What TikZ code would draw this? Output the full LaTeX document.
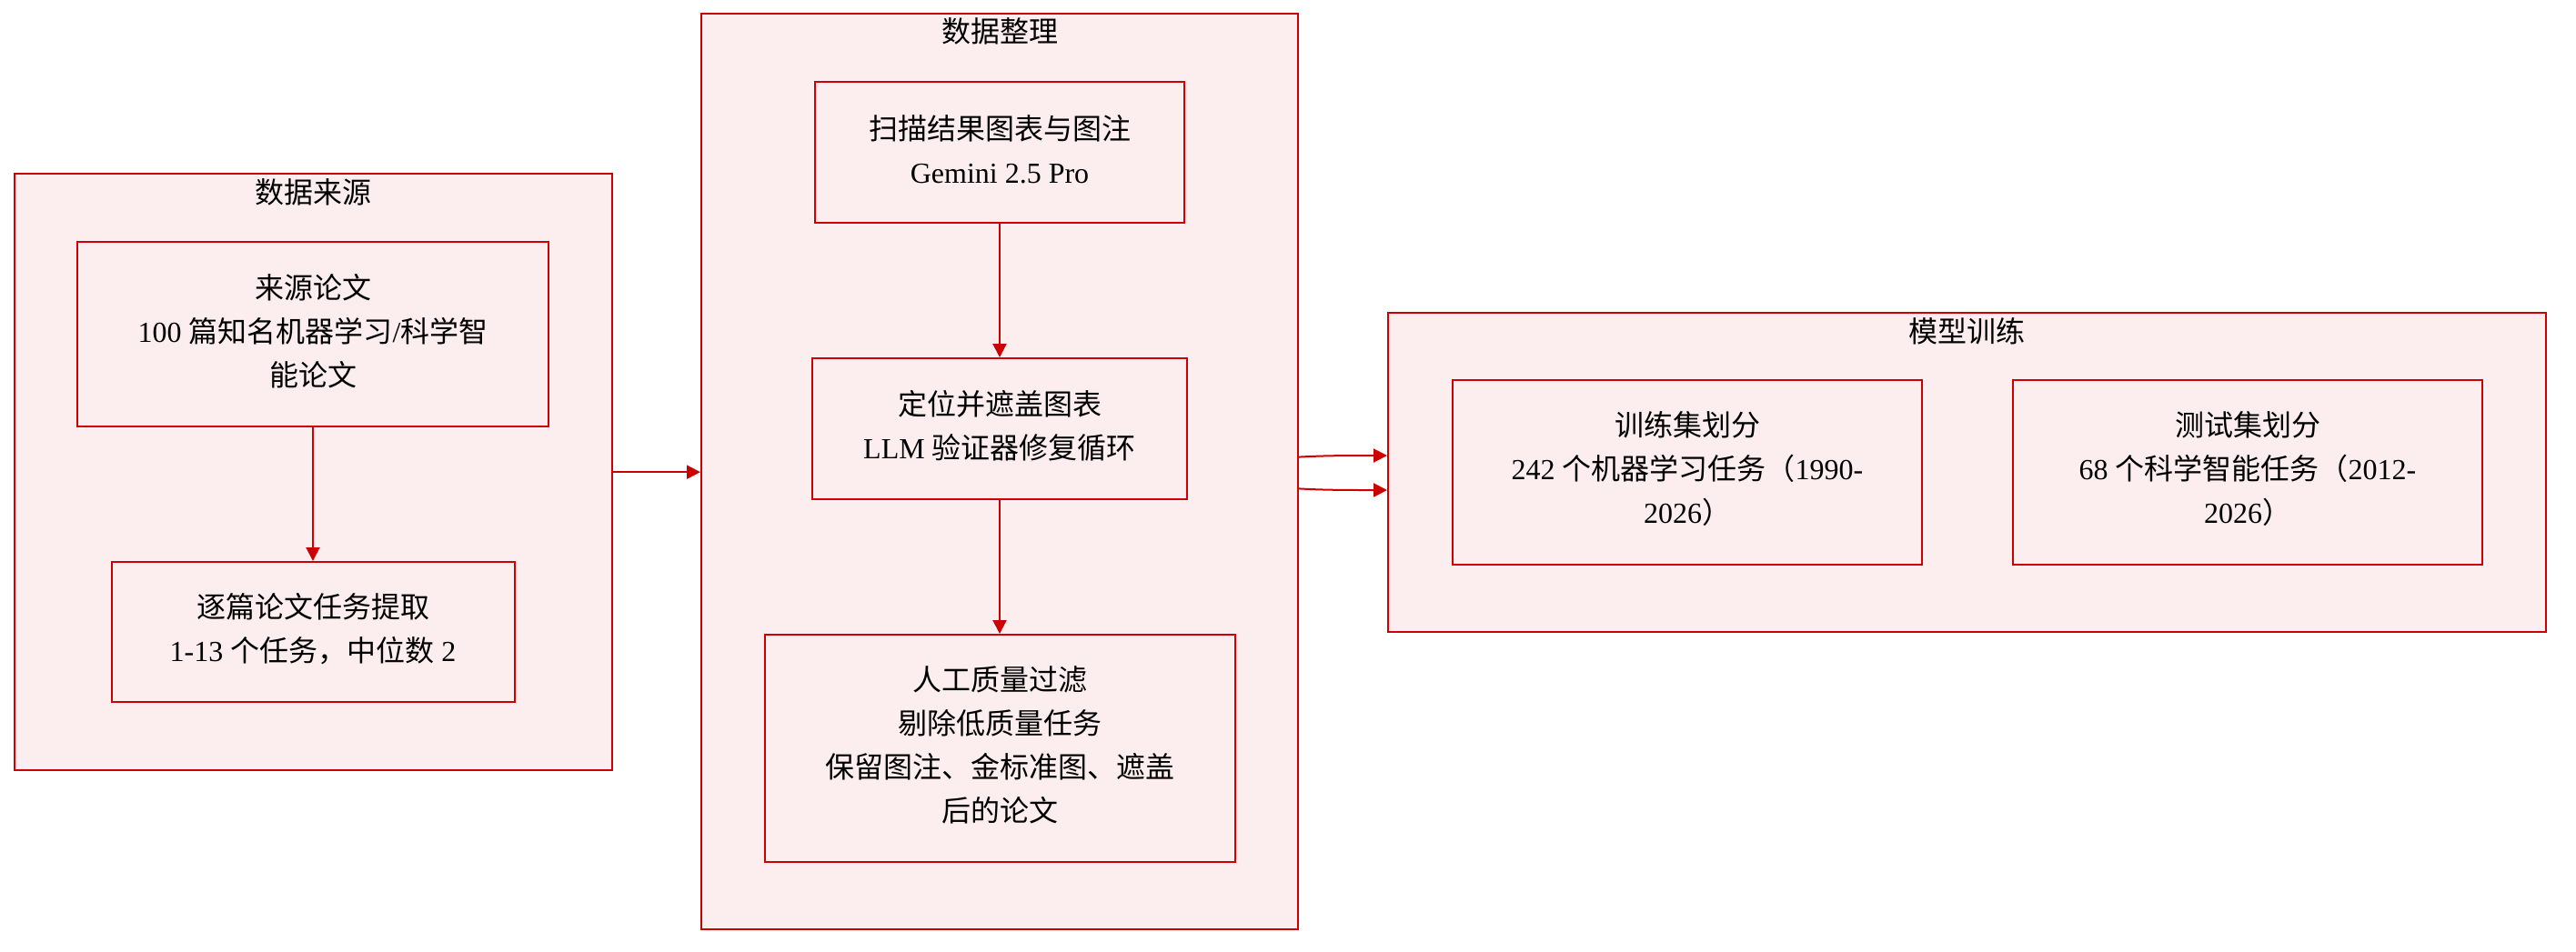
\documentclass[tikz,border=0pt]{standalone}
\usepackage{fontspec}
\setmainfont{Liberation Serif}
\newfontfamily\zhfont{Noto Sans CJK SC}
\newcommand\zh[1]{{\zhfont #1}}
\usetikzlibrary{arrows.meta}
\definecolor{redline}{HTML}{CC0000}
\definecolor{pinkfill}{HTML}{FCEEEE}
\tikzset{
  group/.style={draw=redline, fill=pinkfill, line width=1pt, rectangle, inner sep=0pt},
  steptext/.style={align=center, inner sep=0pt, yshift=1.8pt,
    font=\fontsize{16pt}{24pt}\selectfont},
  stepbox/.style={draw=redline, fill=pinkfill, line width=1pt, rectangle, inner sep=0pt,
    label={[steptext]center:#1}},
  gtitle/.style={font=\fontsize{16pt}{24pt}\selectfont, inner sep=0pt},
  conn/.style={draw=redline, line width=1pt, -{Triangle[length=7.5pt,width=7.5pt]}},
}
\begin{document}
\begin{tikzpicture}
\useasboundingbox (0pt,0pt) rectangle (1416pt,-523pt);
% groups
\node[group, minimum width=328.7pt, minimum height=327.75pt] (g1) at (172.15pt,-259.6pt) {};
\node[group, minimum width=328pt, minimum height=503.65pt] (g2) at (549.5pt,-259.2pt) {};
\node[group, minimum width=636.5pt, minimum height=175.5pt] (g3) at (1081.25pt,-259.75pt) {};
\node[gtitle] (t1) at ([yshift=-10.5pt]g1.north) {\zh{数据来源}};
\node[gtitle] (t2) at ([yshift=-10.5pt]g2.north) {\zh{数据整理}};
\node[gtitle] (t3) at ([yshift=-10.5pt]g3.north) {\zh{模型训练}};
% steps
\node[stepbox={\zh{来源论文}\\100 \zh{篇知名机器学习}/\zh{科学智}\\\zh{能论文}},
  minimum width=259pt, minimum height=101.5pt] (a) at (172pt,-183.75pt) {};
\node[stepbox={\zh{逐篇论文任务提取}\\1-13 \zh{个任务，中位数} 2},
  minimum width=221.5pt, minimum height=77pt] (b) at (172pt,-347.5pt) {};
\node[stepbox={\zh{扫描结果图表与图注}\\Gemini 2.5 Pro},
  minimum width=203pt, minimum height=77.5pt] (c) at (549.5pt,-83.75pt) {};
\node[stepbox={\zh{定位并遮盖图表}\\LLM \zh{验证器修复循环}},
  minimum width=206.25pt, minimum height=77.5pt] (d) at (549.5pt,-235.75pt) {};
\node[stepbox={\zh{人工质量过滤}\\\zh{剔除低质量任务}\\\zh{保留图注、金标准图、遮盖}\\\zh{后的论文}},
  minimum width=258.5pt, minimum height=125pt] (e) at (549.5pt,-411.5pt) {};
\node[stepbox={\zh{训练集划分}\\242 \zh{个机器学习任务（}1990-\\2026\zh{）}},
  minimum width=258pt, minimum height=101.5pt] (f) at (927.5pt,-259.75pt) {};
\node[stepbox={\zh{测试集划分}\\68 \zh{个科学智能任务（}2012-\\2026\zh{）}},
  minimum width=258pt, minimum height=101.5pt] (g) at (1235.5pt,-259.75pt) {};
% connectors
\draw[conn] (a.south) -- (b.north);
\draw[conn] (c.south) -- (d.north);
\draw[conn] (d.south) -- (e.north);
\draw[conn] (g1.east) -- (g1.east -| g2.west);
\draw[conn] ([yshift=7.9pt]g2.east) .. controls +(14pt,0.8pt) and +(-22pt,0pt) .. ([yshift=9.25pt]g3.west);
\draw[conn] ([yshift=-9.5pt]g2.east) .. controls +(14pt,-0.8pt) and +(-22pt,0pt) .. ([yshift=-9.75pt]g3.west);
\end{tikzpicture}
\end{document}
